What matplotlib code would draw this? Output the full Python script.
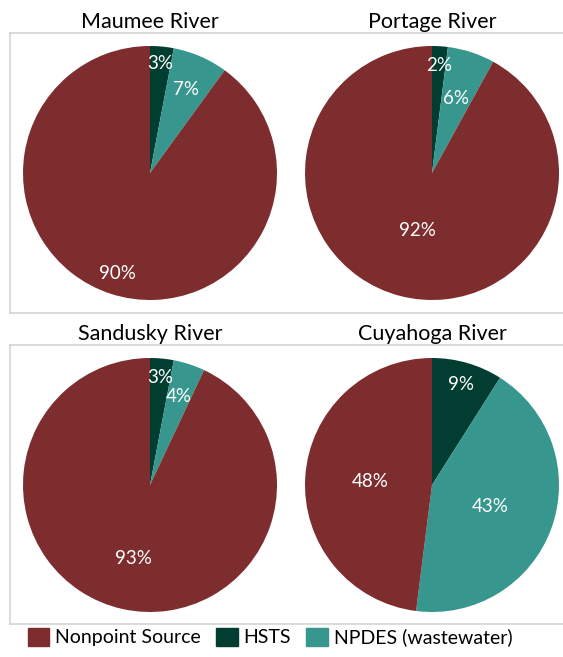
import numpy as np
import matplotlib.pyplot as plt
from matplotlib.lines import Line2D
from matplotlib.patches import Patch

plt.rcParams['font.family'] = ['Lato', 'DejaVu Sans']

rivers = ['Maumee River', 'Portage River', 'Sandusky River', 'Cuyahoga River']
sources = ['Nonpoint Source', 'HSTS', 'NPDES (wastewater)']
# shares in percent, drawn clockwise from 12 o'clock: HSTS, NPDES, Nonpoint
hsts = [3, 2, 3, 9]
npdes = [7, 6, 4, 43]
nonpoint = [90, 92, 93, 48]

# label radius (fraction of pie radius) for HSTS, NPDES, Nonpoint
label_r = [[0.87, 0.72, 0.83],
           [0.85, 0.62, 0.47],
           [0.85, 0.73, 0.59],
           [0.82, 0.49, 0.49]]

c_nps = '#7E2D2F'
c_hsts = '#023D31'
c_npdes = '#37968E'

W, H = 563, 657
fig = plt.figure(figsize=(W / 100, H / 100), dpi=100)

centers = [(150, 173), (432, 173), (150, 485), (432, 485)]
title_y = [22, 22, 334, 334]
R = 127

# panel outlines (one per row)
grey = '#D4D4D4'
for top, bot in [(33, 313), (345, 624)]:
    yt, yb = 1 - top / H, 1 - bot / H
    x0 = 10 / W
    fig.add_artist(Line2D([x0, 1], [yt, yt], color=grey, lw=1.2))
    fig.add_artist(Line2D([x0, 1], [yb, yb], color=grey, lw=1.2))
    fig.add_artist(Line2D([x0, x0], [yt, yb], color=grey, lw=1.2))

for i, name in enumerate(rivers):
    cx, cy = centers[i]
    ax = fig.add_axes([(cx - R) / W, 1 - (cy + R) / H, 2 * R / W, 2 * R / H])
    vals = [hsts[i], npdes[i], nonpoint[i]]
    wedges, _ = ax.pie(vals, colors=[c_hsts, c_npdes, c_nps], startangle=90,
                       counterclock=False, radius=1,
                       wedgeprops=dict(linewidth=0))
    ax.set_xlim(-1, 1)
    ax.set_ylim(-1, 1)
    for w, v, r in zip(wedges, vals, label_r[i]):
        mid = np.deg2rad((w.theta1 + w.theta2) / 2)
        ax.text(r * np.cos(mid), r * np.sin(mid), f'{v}%', color='white',
                fontsize=13.5, ha='center', va='center')
    fig.text(cx / W, 1 - title_y[i] / H, name, ha='center', va='center',
             fontsize=15.5, color='black')

handles = [Patch(color=c_nps), Patch(color=c_hsts), Patch(color=c_npdes)]
fig.legend(handles, sources, loc='center', bbox_to_anchor=(270 / W, 1 - 637 / H),
           ncol=3, frameon=False, fontsize=14, handlelength=1.1,
           handleheight=1.1, handletextpad=0.3, columnspacing=0.8)

fig.savefig('out.png', dpi=100)
